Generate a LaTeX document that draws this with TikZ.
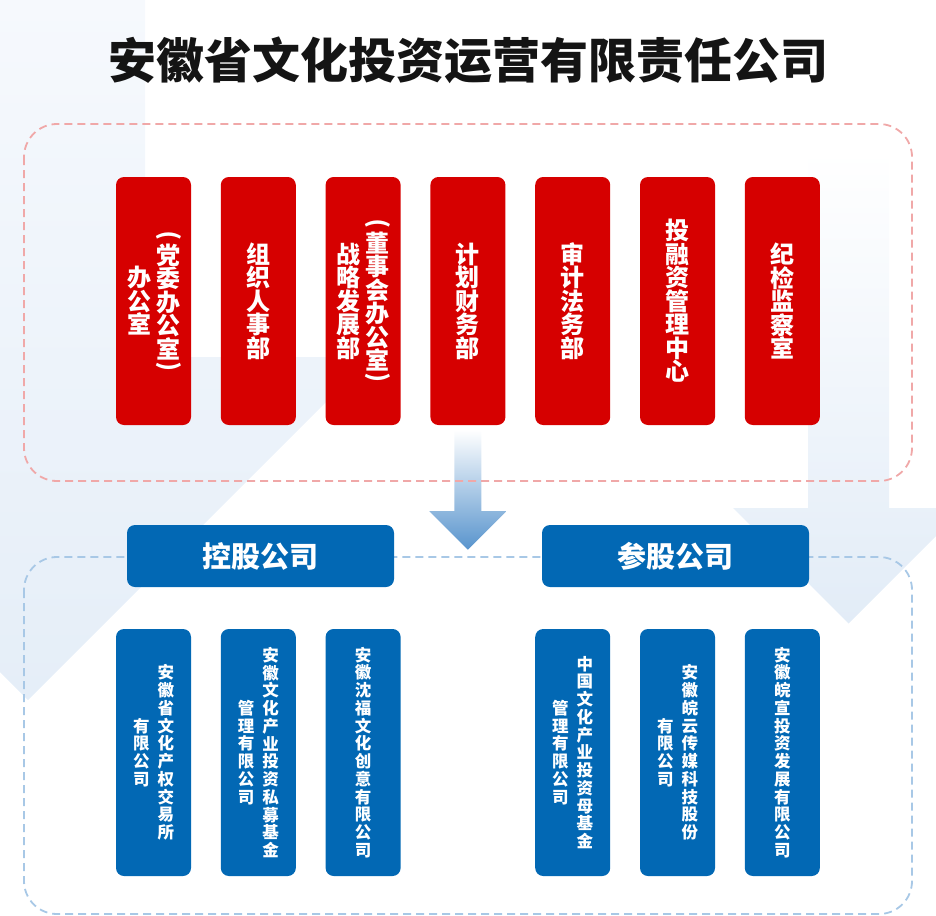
\documentclass[tikz,border=0pt]{standalone}
\usepackage{fontspec}
\setmainfont{Noto Sans CJK SC}
\usepackage{graphicx}
\usetikzlibrary{calc, positioning}

\definecolor{deptred}{RGB}{214,0,0}
\definecolor{firmblue}{RGB}{2,104,180}
\definecolor{linered}{RGB}{240,168,168}
\definecolor{lineblue}{RGB}{168,200,230}
\definecolor{arrowblue}{RGB}{88,148,205}
\definecolor{bgtop}{RGB}{246,249,253}
\definecolor{bgblue}{RGB}{226,236,247}

% one vertical column of characters
\newcommand{\vcol}[1]{\parbox[c]{1em}{\centering #1}}
\newcommand{\vopen}{\rotatebox{90}{)}}
\newcommand{\vclose}{\rotatebox{90}{(}}

\tikzset{
  deptbox/.style={fill=deptred, text=white, rounded corners=8pt, minimum width=75pt,
    minimum height=248pt, inner sep=0pt, font=\bfseries\fontsize{24}{23.5}\selectfont},
  firmbox/.style={fill=firmblue, text=white, rounded corners=8pt, minimum width=75pt,
    minimum height=247pt, inner sep=0pt, font=\bfseries\fontsize{16.5}{17.75}\selectfont},
  headbox/.style={fill=firmblue, text=white, rounded corners=8pt, minimum width=267pt,
    minimum height=62pt, inner sep=0pt, font=\bfseries\fontsize{29}{29}\selectfont},
  dashframe/.style={line width=1.8pt, dash pattern=on 8pt off 5pt, rounded corners=33pt},
}

\begin{document}
\begin{tikzpicture}[x=1pt, y=-1pt]
    \useasboundingbox (0,0) rectangle (936,915);
    % Background arrows
    \begin{scope}
        \clip (0,0) rectangle (936,915);
        \shade[top color=bgtop, bottom color=bgblue!90!white]
            (-89,0) -- (145,0) -- (145,357) -- (371,357) -- (28,700) -- (-315,357) -- (-89,357) -- cycle;
        \shade[top color=white, bottom color=bgblue]
            (808,150) -- (889,150) -- (889,508) -- (964,508) -- (848.5,623.5) -- (733,508) -- (808,508) -- cycle;
    \end{scope}
    % Title
    \node[font=\bfseries\fontsize{48}{48}\selectfont, text=black!92] (title) at (468,60) {安徽省文化投资运营有限责任公司};
    % Departments
    \foreach \i/\txt in {
        1/{\vcol{办\\公\\室}\hspace{5pt}\vcol{\vopen\\党\\委\\办\\公\\室\\[-10.5pt]\vclose}},
        2/{\vcol{组\\织\\人\\事\\部}},
        3/{\vcol{战\\略\\发\\展\\部}\hspace{5pt}\vcol{\vopen\\董\\事\\会\\办\\公\\室\\[-10.5pt]\vclose}},
        4/{\vcol{计\\划\\财\\务\\部}},
        5/{\vcol{审\\计\\法\\务\\部}},
        6/{\vcol{投\\融\\资\\管\\理\\中\\心}},
        7/{\vcol{纪\\检\\监\\察\\室}}}
        \node[deptbox] (dept\i) at ({153.5+(\i-1)*104.8},301) {\txt};
    % Arrow down to the companies
    \shade[top color=white, bottom color=arrowblue]
        ($(dept4.south)+(-13.5,5)$) -- ++(27,0) -- ++(0,81) -- ++(25,0) -- ++(-38.5,38.5)
        -- ++(-38.5,-38.5) -- ++(25,0) -- cycle;
    % Dashed frames
    \draw[dashframe, draw=linered] (24,124) rectangle (912,481);
    \draw[dashframe, draw=lineblue] (24,557) rectangle (912,914);
    % Companies
    \foreach \i/\txt in {
        1/{\vcol{有\\限\\公\\司}\hspace{8pt}\vcol{安\\徽\\省\\文\\化\\产\\权\\交\\易\\所}},
        2/{\vcol{管\\理\\有\\限\\公\\司}\hspace{8pt}\vcol{安\\徽\\文\\化\\产\\业\\投\\资\\私\\募\\基\\金}},
        3/{\vcol{安\\徽\\沈\\福\\文\\化\\创\\意\\有\\限\\公\\司}},
        5/{\vcol{管\\理\\有\\限\\公\\司}\hspace{8pt}\vcol{中\\国\\文\\化\\产\\业\\投\\资\\母\\基\\金}},
        6/{\vcol{有\\限\\公\\司}\hspace{8pt}\vcol{安\\徽\\皖\\云\\传\\媒\\科\\技\\股\\份}},
        7/{\vcol{安\\徽\\皖\\宣\\投\\资\\发\\展\\有\\限\\公\\司}}}
        \node[firmbox] (firm\i) at ({153.5+(\i-1)*104.8},752.5) {\txt};
    % Group headers
    \node[headbox] (hold) at (260.5,556) {控股公司};
    \node[headbox] (share) at (675.5,556) {参股公司};
\end{tikzpicture}
\end{document}
